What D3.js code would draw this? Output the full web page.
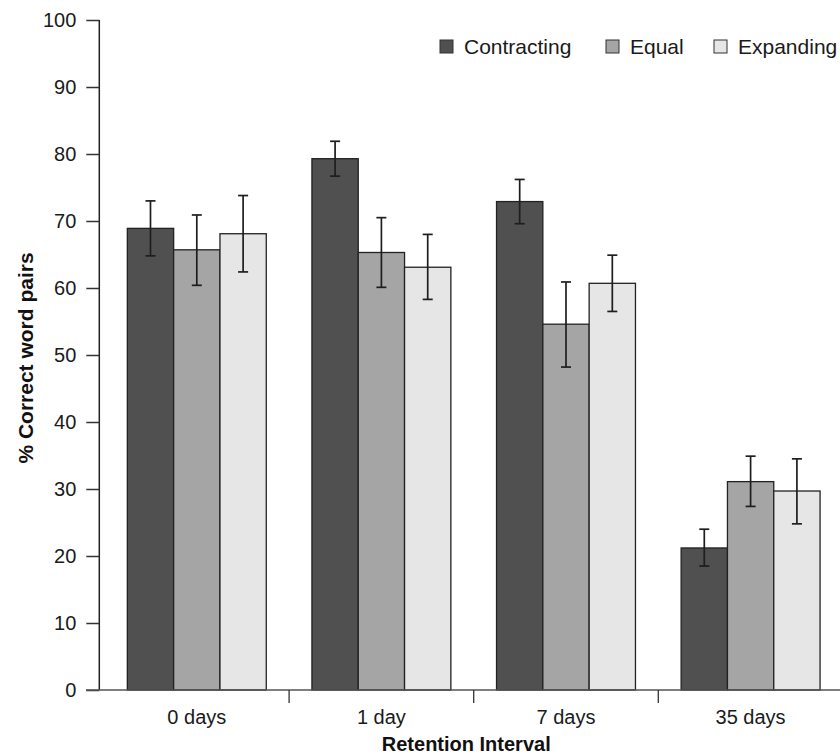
<!DOCTYPE html>
<html><head><meta charset="utf-8">
<script src="https://cdn.jsdelivr.net/npm/d3@7"></script>
<style>
html,body{margin:0;padding:0;background:#fff;}
svg{display:block;font-family:"Liberation Sans",Arial,sans-serif;}
</style></head>
<body>
<svg id="chart" width="840" height="754"></svg>
<script>
const categories = ["0 days", "1 day", "7 days", "35 days"];
const seriesNames = ["Contracting", "Equal", "Expanding"];
const contracting = [68.9, 79.3, 72.9, 21.2];
const contractingLow = [64.8, 76.7, 69.6, 18.5];
const contractingHigh = [73.0, 81.9, 76.2, 24.0];
const equal = [65.7, 65.3, 54.6, 31.1];
const equalLow = [60.4, 60.1, 48.2, 27.4];
const equalHigh = [70.9, 70.5, 60.9, 34.9];
const expanding = [68.1, 63.1, 60.7, 29.7];
const expandingLow = [62.4, 58.3, 56.5, 24.8];
const expandingHigh = [73.8, 68.0, 64.9, 34.5];
const yTicks = [0, 10, 20, 30, 40, 50, 60, 70, 80, 90, 100];
const colors = ["#505050", "#a4a5a4", "#e6e6e6"];

const series = [
  {name: seriesNames[0], vals: contracting, lo: contractingLow, hi: contractingHigh},
  {name: seriesNames[1], vals: equal, lo: equalLow, hi: equalHigh},
  {name: seriesNames[2], vals: expanding, lo: expandingLow, hi: expandingHigh}
];

const svg = d3.select("#chart");
const y = d3.scaleLinear().domain([0, 100]).range([690, 20]);
const x0 = d3.scaleBand().domain(categories).range([104.5, 842.9]).padding(0);
const x1 = d3.scaleBand().domain(seriesNames).range([0, x0.bandwidth()]).paddingInner(0).paddingOuter(0.493);
const color = d3.scaleOrdinal().domain(seriesNames).range(colors);

// bars
const rows = [];
categories.forEach((c, i) => series.forEach(s => rows.push({cat: c, name: s.name, v: s.vals[i], lo: s.lo[i], hi: s.hi[i]})));

svg.append("g").selectAll("rect").data(rows).join("rect")
  .attr("x", d => x0(d.cat) + x1(d.name))
  .attr("y", d => y(d.v))
  .attr("width", x1.bandwidth())
  .attr("height", d => y(0) - y(d.v))
  .attr("fill", d => color(d.name))
  .attr("stroke", "#222")
  .attr("stroke-width", 1.3);

// error bars
const eb = svg.append("g").attr("stroke", "#1e1e1e").attr("stroke-width", 1.7);
rows.forEach(d => {
  const cx = x0(d.cat) + x1(d.name) + x1.bandwidth() / 2;
  eb.append("line").attr("x1", cx).attr("x2", cx).attr("y1", y(d.lo)).attr("y2", y(d.hi));
  eb.append("line").attr("x1", cx - 5).attr("x2", cx + 5).attr("y1", y(d.lo)).attr("y2", y(d.lo));
  eb.append("line").attr("x1", cx - 5).attr("x2", cx + 5).attr("y1", y(d.hi)).attr("y2", y(d.hi));
});

// y axis
const yAxis = d3.axisLeft(y).tickValues(yTicks).tickSize(13).tickPadding(10);
const gy = svg.append("g").attr("transform", "translate(99.3,0)").call(yAxis);
gy.select(".domain").attr("stroke", "#222").attr("stroke-width", 1.5).attr("d", `M0,${y(100)}V${y(0)}`);
gy.selectAll(".tick line").attr("stroke", "#333").attr("stroke-width", 1.5);
gy.selectAll(".tick text").attr("font-size", 20).attr("fill", "#1a1a1a").attr("font-family", "Liberation Sans, Arial, sans-serif");

// x axis
svg.append("line").attr("x1", 86).attr("x2", 840).attr("y1", y(0)).attr("y2", y(0))
  .attr("stroke", "#555").attr("stroke-width", 1.5);
const seps = categories.slice(1).map(c => x0(c));
svg.append("g").selectAll("line").data(seps).join("line")
  .attr("x1", d => d).attr("x2", d => d).attr("y1", y(0)).attr("y2", y(0) + 13)
  .attr("stroke", "#333").attr("stroke-width", 1.3);
svg.append("g").selectAll("text").data(categories).join("text")
  .attr("x", d => x0(d) + x0.bandwidth() / 2)
  .attr("y", 724)
  .attr("text-anchor", "middle")
  .attr("font-size", 20)
  .attr("fill", "#1a1a1a")
  .text(d => d);

// axis titles
svg.append("text").attr("x", (x0.range()[0] + 840) / 2 - 6).attr("y", 751)
  .attr("text-anchor", "middle").attr("font-size", 20).attr("font-weight", "bold").attr("fill", "#111")
  .text("Retention Interval");
svg.append("text").attr("transform", `translate(33,358) rotate(-90)`)
  .attr("text-anchor", "middle").attr("font-size", 21).attr("font-weight", "bold").attr("fill", "#111")
  .text("% Correct word pairs");

// legend
const legX = [440, 606, 714];
const leg = svg.append("g");
seriesNames.forEach((n, i) => {
  leg.append("rect").attr("x", legX[i]).attr("y", 40).attr("width", 13).attr("height", 13)
    .attr("fill", color(n)).attr("stroke", "#333").attr("stroke-width", 1);
  leg.append("text").attr("x", legX[i] + 24).attr("y", 54).attr("font-size", 21).attr("fill", "#1a1a1a").text(n);
});
</script>
</body></html>
